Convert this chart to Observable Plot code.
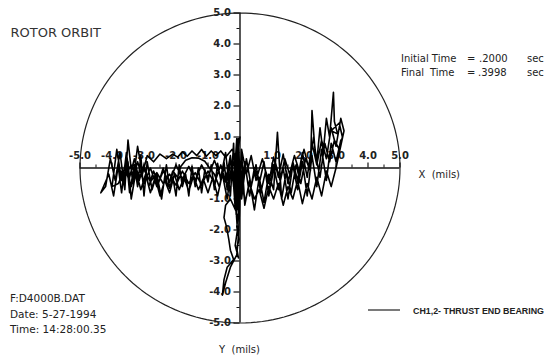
<!DOCTYPE html>
<html><head><meta charset="utf-8">
<script src="https://cdn.jsdelivr.net/npm/d3@7"></script>
<script src="https://cdn.jsdelivr.net/npm/@observablehq/plot@0.6"></script>
<style>
html,body{margin:0;padding:0;background:#fff;}
svg text{white-space:pre;}
</style></head><body><div id="chart"></div>
<script>
// ---- data (mils) ----
const xTickValues = [-5,-4,-3,-2,-1,0,1,2,3,4,5];
const xTickLabels = [-5,-4,-3,-2,-1,1,2,3,4,5];
const yTickValues = [-5,-4,-3,-2,-1,0,1,2,3,4,5];
const yTickLabels = [5,4,3,2,1,-1,-2,-3,-4,-5];
const minorTicks = [-4.5,-3.5,-2.5,-1.5,-0.5,0.5,1.5,2.5,3.5,4.5];

const sweepA = [[0.0,1.0],[-0.1,0.3],[-0.25,0.6],[-0.45,0.35],[-0.6,0.55],[-0.75,0.4],[-0.9,0.55],[-1.05,0.38],[-1.2,0.6],[-1.35,0.4],[-1.5,0.55],[-1.65,0.38],[-1.8,0.52],[-1.95,0.35],[-2.1,0.45],[-2.3,0.3],[-2.5,0.45],[-2.7,0.2],[-2.9,0.4],[-3.05,-0.2],[-3.2,0.7],[-3.35,-0.5],[-3.5,0.9],[-3.6,-0.7],[-3.75,0.5],[-3.9,-0.4],[-4.05,0.3],[-4.2,-0.6],[-4.35,-0.8]];
const sweepB = [[-4.1,-0.2],[-3.95,-0.9],[-3.8,0.1],[-3.65,-0.5],[-3.5,0.2],[-3.4,-1.0],[-3.25,-0.1],[-3.1,-0.7],[-2.95,-0.2],[-2.8,-0.8],[-2.65,-0.3],[-2.5,-0.9],[-2.35,-0.4],[-2.2,-0.8],[-2.05,-0.2],[-1.9,-0.7],[-1.75,-0.3],[-1.6,-0.75],[-1.45,-0.25],[-1.3,-0.7],[-1.15,-0.35],[-1.0,-0.8],[-0.85,-0.3],[-0.7,-0.9],[-0.55,-0.2],[-0.4,-1.0],[-0.25,0.2],[-0.15,-1.3],[-0.05,0.7],[0.05,-1.0],[0.2,0.3],[0.35,-0.6],[0.5,0.1],[0.65,-0.8],[0.8,-0.1],[0.95,-0.6],[1.1,0.2],[1.25,-0.4],[1.4,0.3],[1.55,-0.2],[1.7,0.4],[1.85,-0.1],[2.0,0.6],[2.15,0.0],[2.3,1.0],[2.4,0.2],[2.5,1.3],[2.6,0.5],[2.7,1.6],[2.8,1.0],[2.92,2.44],[2.95,1.5],[3.05,1.1],[2.85,1.2],[3.1,1.45],[3.2,1.0],[3.1,0.6]];
const sweepC = [[2.95,0.9],[2.8,0.2],[2.65,0.8],[2.5,-0.3],[2.35,0.5],[2.25,1.85],[2.2,-0.1],[2.05,0.3],[1.9,-0.5],[1.75,0.1],[1.6,-0.8],[1.45,-0.1],[1.3,-1.0],[1.17,1.15],[1.05,-0.7],[0.9,-0.2],[0.75,-1.1],[0.6,-0.3],[0.45,-1.35],[0.3,-0.4],[0.15,-1.2],[0.05,0.5],[-0.05,-1.6],[-0.1,0.9],[-0.15,-1.0]];
const sweepD = [[-0.05,-1.4],[-0.1,-1.9],[-0.03,-2.3],[-0.1,-2.6],[-0.05,-2.9],[-0.15,-2.5],[-0.08,-2.0],[-0.12,-1.4],[-0.3,-1.0],[-0.45,-1.2],[-0.5,-1.6],[-0.42,-1.9],[-0.35,-2.3],[-0.3,-2.65],[-0.2,-2.95],[-0.4,-3.2],[-0.5,-3.6],[-0.55,-4.1],[-0.45,-3.7],[-0.3,-3.2],[-0.1,-2.8],[-0.05,-2.2],[-0.02,-1.5],[0.0,-0.8]];
const sweepE = [[-0.2,0.2],[-0.35,-0.5],[-0.5,0.0],[-0.65,-0.6],[-0.8,-0.2],[-0.95,0.0],[-1.1,0.22],[-1.3,0.32],[-1.5,0.33],[-1.7,0.25],[-1.85,0.05],[-1.95,-0.3],[-2.1,-0.1],[-2.25,-0.6],[-2.4,0.0],[-2.55,-0.5],[-2.7,-0.1],[-2.85,-0.6],[-3.0,0.1],[-3.15,-0.4],[-3.3,0.3],[-3.45,-0.3],[-3.55,0.5],[-3.7,-0.8],[-3.8,0.0]];
const sweepF = [[-3.6,-0.3],[-3.4,0.1],[-3.2,-0.35],[-3.0,-0.05],[-2.8,-0.45],[-2.6,-0.15],[-2.4,-0.5],[-2.2,-0.2],[-2.0,-0.55],[-1.8,-0.1],[-1.6,-0.5],[-1.4,-0.15],[-1.2,-0.55],[-1.0,-0.1],[-0.8,-0.5],[-0.6,0.1],[-0.45,-0.45],[-0.3,0.4],[-0.2,-0.6],[-0.1,0.95],[-0.02,-0.9],[0.05,0.6],[0.2,-0.2],[0.35,0.4],[0.5,-0.4],[0.7,0.3],[0.9,-0.5],[1.05,0.35],[1.2,-0.3],[1.35,0.45],[1.5,-0.5],[1.65,0.2],[1.8,-0.4],[1.95,0.5],[2.1,-0.3],[2.25,0.8],[2.4,0.1],[2.55,0.9],[2.7,0.3],[2.85,1.3],[3.0,0.7],[3.15,1.6],[3.25,1.2]];
const sweepG = [[3.0,0.0],[2.85,-0.6],[2.7,-0.1],[2.55,-0.9],[2.4,-0.3],[2.25,-1.0],[2.1,-0.5],[1.95,-1.15],[1.8,-0.4],[1.65,-1.0],[1.5,-0.6],[1.35,-1.2],[1.2,-0.5],[1.05,-1.0],[0.9,-0.6],[0.75,-1.3],[0.6,-0.7],[0.45,-1.0],[0.3,-0.5],[0.15,-1.1],[0.0,0.2],[-0.08,-1.2],[-0.12,0.6],[-0.05,0.95]];
const sweepH = [[-0.2,-0.3],[-0.3,0.3],[-0.4,-0.7],[-0.5,0.2],[-0.6,-0.4],[-0.7,0.15],[-0.8,-0.7],[-0.9,0.1],[-1.0,-0.45],[-1.1,-0.05],[-1.2,-0.8],[-1.3,0.0],[-1.4,-0.6],[-1.5,0.05],[-1.6,-0.9],[-1.7,-0.2],[-1.8,-0.6],[-1.9,0.1],[-2.0,-0.9],[-2.1,-0.3],[-2.2,-0.65],[-2.3,0.1],[-2.45,-1.0],[-2.6,-0.2],[-2.75,-0.7],[-2.9,0.2],[-3.0,-0.9],[-3.1,0.4],[-3.2,-0.6],[-3.3,0.1],[-3.45,-0.8],[-3.55,0.3],[-3.7,-0.4],[-3.85,0.6],[-4.0,-0.6]];
const sweepI = [[-3.8,-0.5],[-3.6,0.0],[-3.4,-0.6],[-3.2,0.2],[-3.0,-0.5],[-2.8,0.0],[-2.6,-0.6],[-2.4,-0.1],[-2.2,-0.45],[-2.0,0.1],[-1.8,-0.35],[-1.6,0.05],[-1.4,-0.4],[-1.2,0.1],[-1.0,-0.3],[-0.8,0.25],[-0.6,-0.3],[-0.45,0.5],[-0.3,-0.9],[-0.2,0.8],[-0.12,-1.5],[-0.05,0.6],[0.05,-0.7],[0.15,0.2],[0.3,-0.9],[0.45,0.0],[0.6,-0.5],[0.75,0.2],[0.9,-0.9],[1.05,0.1],[1.2,-0.7],[1.35,0.0],[1.5,-1.0],[1.65,0.1],[1.8,-0.7],[1.95,0.2],[2.1,-0.9],[2.25,0.4],[2.4,-0.6],[2.55,0.6],[2.7,-0.4],[2.85,0.8],[3.0,0.2],[3.15,0.9]];

const titleText = "ROTOR ORBIT";
const timeLines = [["Initial Time", "=", ".2000", "sec"], ["Final", "Time", "=", ".3998", "sec"]];
const infoLines = ["F:D4000B.DAT", "Date: 5-27-1994", "Time: 14:28:00.35"];
const legendLabel = "CH1,2- THRUST END BEARING";

// ---- layout ----
const W = 548, H = 355;
const cx = 239.5, cy = 167.5, kx = 32, ky = 31;
const font = "DejaVu Sans, sans-serif";
const fmt = d => (d < 0 ? "-" : "") + Math.abs(d).toFixed(1);

const orbit = [...sweepA, ...sweepB, ...sweepC, ...sweepD, ...sweepE, ...sweepF, ...sweepG, ...sweepH, ...sweepI];
const circle = d3.range(0, 361, 2).map(a => [5 * Math.cos(a * Math.PI / 180), 5 * Math.sin(a * Math.PI / 180)]);

const plot = Plot.plot({
  width: W, height: H,
  margin: 0,
  x: {domain: [-cx / kx, (W - cx) / kx]},
  y: {domain: [(cy - H) / ky, cy / ky]},
  axis: null,
  style: {fontFamily: font, background: "#fff"},
  marks: [
    Plot.line(circle, {x: d => d[0], y: d => d[1], stroke: "#222", strokeWidth: 1.2}),
    Plot.ruleY([0], {x1: -5, x2: 5, stroke: "#111", strokeWidth: 1.4}),
    Plot.ruleX([0], {y1: -5, y2: 5, stroke: "#111", strokeWidth: 1.4}),
    Plot.ruleX(xTickValues, {x: d => d, y1: 0, y2: 5 / ky, stroke: "#111", strokeWidth: 1.2}),
    Plot.ruleX(minorTicks, {x: d => d, y1: 0, y2: 3 / ky, stroke: "#111", strokeWidth: 1}),
    Plot.ruleY(yTickValues, {y: d => d, x1: -6 / kx, x2: 0, stroke: "#111", strokeWidth: 1.2}),
    Plot.ruleY(minorTicks, {y: d => d, x1: -3 / kx, x2: 0, stroke: "#111", strokeWidth: 1}),
    Plot.text(xTickLabels, {x: d => d, y: 0, dy: -12, text: fmt, fontSize: 10, fontWeight: "bold", fill: "#222"}),
    Plot.text(yTickLabels, {x: 0, y: d => d, dx: -9, text: fmt, textAnchor: "end", fontSize: 10, fontWeight: "bold", fill: "#222"}),
    Plot.text(["X  (mils)"], {frameAnchor: "top-left", dx: 418, dy: 170, textAnchor: "start", fontSize: 10, fill: "#222"}),
    Plot.text(["Y  (mils)"], {frameAnchor: "top-left", dx: 239, dy: 345, textAnchor: "middle", fontSize: 10, fill: "#222"}),
    Plot.text([titleText], {frameAnchor: "top-left", dx: 10, dy: 27.5, textAnchor: "start", fontSize: 13, fill: "#333"}),
    Plot.line(orbit, {x: d => d[0], y: d => d[1], stroke: "#000", strokeWidth: 1.6, curve: "linear"})
  ]
});
document.getElementById("chart").appendChild(plot);

// fixed-position annotations (title block, file info, legend)
const svg = d3.select(plot);
const ann = svg.append("g").attr("font-family", font).attr("fill", "#222").attr("text-anchor", "start");
const timeCols = [[401, 467, 479, 527], [401, 430, 467, 478, 527]];
const timeRows = [62, 75.5];
timeLines.forEach((row, r) => row.forEach((t, c) => {
  ann.append("text").attr("x", timeCols[r][c]).attr("y", timeRows[r]).attr("font-size", 10).text(t);
}));
const infoRows = [302, 317.5, 333];
infoLines.forEach((t, i) => ann.append("text").attr("x", 10).attr("y", infoRows[i]).attr("font-size", 10.5).text(t));
ann.append("line").attr("x1", 368).attr("x2", 400).attr("y1", 310).attr("y2", 310).attr("stroke", "#222").attr("stroke-width", 1.2);
ann.append("text").attr("x", 413).attr("y", 313.5).attr("font-size", 8.5).attr("font-family", "Liberation Sans, sans-serif").attr("font-weight", "bold").attr("textLength", 131).attr("lengthAdjust", "spacingAndGlyphs").text(legendLabel);
</script></body></html>
